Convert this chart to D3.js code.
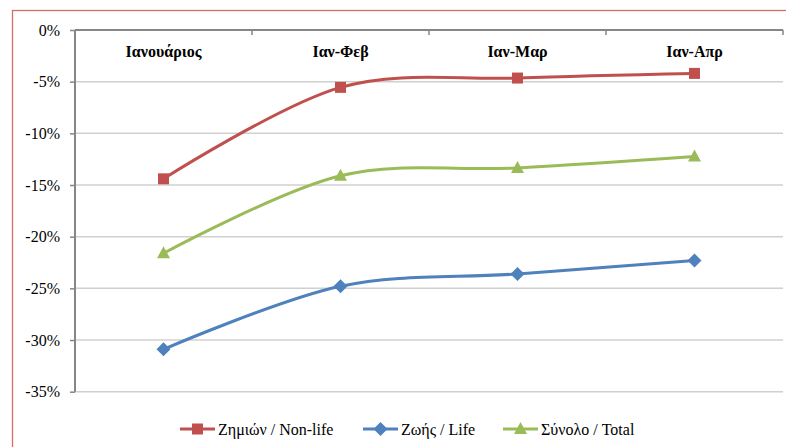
<!DOCTYPE html>
<html><head><meta charset="utf-8">
<script src="https://cdn.jsdelivr.net/npm/d3@7"></script>
<style>body{margin:0;background:#fff}svg{display:block}</style>
</head><body>
<svg id="c" width="786" height="447"></svg>
<script>
const categories = ["Ιανουάριος", "Ιαν-Φεβ", "Ιαν-Μαρ", "Ιαν-Απρ"];
const nonLife = [-14.4, -5.55, -4.65, -4.2];
const life = [-30.9, -24.8, -23.6, -22.3];
const total = [-21.6, -14.1, -13.35, -12.25];
const yTicks = [0, -5, -10, -15, -20, -25, -30, -35];
const seriesNames = ["Ζημιών / Non-life", "Ζωής / Life", "Σύνολο / Total"];

const series = [
  {name: seriesNames[0], values: nonLife, color: "#C0504D", marker: "square"},
  {name: seriesNames[1], values: life, color: "#4F81BD", marker: "diamond"},
  {name: seriesNames[2], values: total, color: "#9BBB59", marker: "triangle"}
];

const FONT = "'Liberation Serif'";
const svg = d3.select("#c");
const L = 75, R = 783, T = 30, B = 391.7;

svg.append("rect").attr("x", 12.5).attr("y", 10.5).attr("width", 900).attr("height", 600)
  .attr("fill", "none").attr("stroke", "#D56B6B").attr("stroke-width", 1.3);

const x = d3.scaleBand().domain(categories).range([L, R]);
const y = d3.scaleLinear().domain([-35, 0]).range([B, T]);

svg.append("g").selectAll("line").data(yTicks.filter(d => d !== 0)).join("line")
  .attr("x1", L).attr("x2", R).attr("y1", d => y(d)).attr("y2", d => y(d))
  .attr("stroke", "#D0D0D0").attr("stroke-width", 1.5);

const yAxis = svg.append("g").attr("transform", `translate(${L},0)`)
  .call(d3.axisLeft(y).tickValues(yTicks).tickSize(5).tickPadding(10).tickFormat(d => d + "%"));
yAxis.attr("font-family", null).attr("font-size", null);
yAxis.select(".domain").attr("stroke", "#868686").attr("stroke-width", 2).attr("d", `M0,${T}V${B}`);
yAxis.selectAll(".tick line").attr("stroke", "#868686").attr("stroke-width", 1.5);
yAxis.selectAll("text").style("font-family", FONT).style("font-size", "16px").attr("fill", "#000");

const xAxis = svg.append("g").attr("transform", `translate(0,${y(0)})`)
  .call(d3.axisBottom(x).tickSize(0).tickPadding(16));
xAxis.attr("font-family", null).attr("font-size", null);
xAxis.select(".domain").attr("stroke", "#868686").attr("stroke-width", 2).attr("d", `M${L},0H${R}`);
xAxis.selectAll("text").style("font-family", FONT).style("font-size", "16px").style("font-weight", "bold").attr("fill", "#000");
const bounds = categories.map(c => x(c)).concat([x(categories[categories.length-1]) + x.bandwidth()]);
svg.append("g").selectAll("line").data(bounds).join("line")
  .attr("x1", d => d).attr("x2", d => d).attr("y1", y(0)).attr("y2", y(0) + 5)
  .attr("stroke", "#868686").attr("stroke-width", 1.5);

const cx = c => x(c) + x.bandwidth() / 2;
const line = d3.line().x((d, i) => cx(categories[i])).y(d => y(d)).curve(d3.curveCatmullRom.alpha(0));

function drawMarker(g, type, px, py, color) {
  if (type === "square") {
    g.append("rect").attr("x", px - 5.5).attr("y", py - 5.5).attr("width", 11).attr("height", 11).attr("fill", color);
  } else if (type === "diamond") {
    const s = 7;
    g.append("path").attr("d", `M${px},${py - s}L${px + s},${py}L${px},${py + s}L${px - s},${py}Z`).attr("fill", color);
  } else {
    g.append("path").attr("d", `M${px},${py - 7}L${px + 6.5},${py + 5}L${px - 6.5},${py + 5}Z`).attr("fill", color);
  }
}

series.forEach(s => {
  svg.append("path").datum(s.values).attr("d", line).attr("fill", "none")
    .attr("stroke", s.color).attr("stroke-width", 3).attr("stroke-linejoin", "round");
  const g = svg.append("g");
  s.values.forEach((v, i) => drawMarker(g, s.marker, cx(categories[i]), y(v), s.color));
});

const legX = [180, 363, 503];
series.forEach((s, i) => {
  const g = svg.append("g");
  const ly = 429;
  g.append("line").attr("x1", legX[i]).attr("x2", legX[i] + 35).attr("y1", ly).attr("y2", ly)
    .attr("stroke", s.color).attr("stroke-width", 3);
  drawMarker(g, s.marker, legX[i] + 17.5, ly, s.color);
  g.append("text").attr("x", legX[i] + 38).attr("y", ly + 5.5)
    .style("font-family", FONT).style("font-size", "16px").attr("fill", "#000").text(s.name);
});
</script>
</body></html>
